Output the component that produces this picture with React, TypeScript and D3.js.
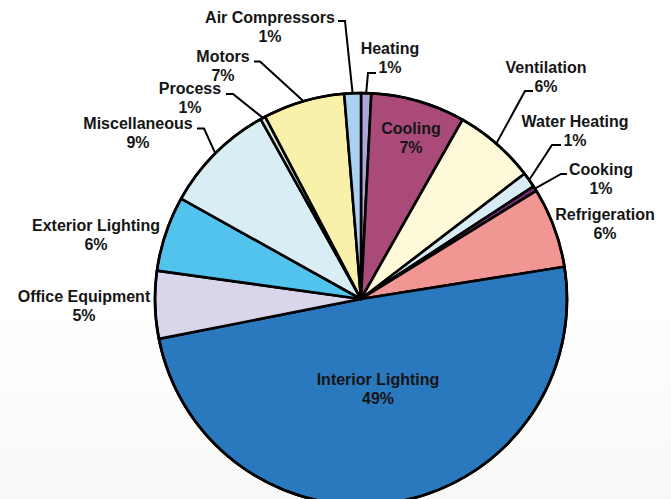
import React from "react";
import * as d3 from "d3";

// slice order, clockwise from 12 o'clock
const categories = [
  "Heating",
  "Cooling",
  "Ventilation",
  "Water Heating",
  "Cooking",
  "Refrigeration",
  "Interior Lighting",
  "Office Equipment",
  "Exterior Lighting",
  "Miscellaneous",
  "Process",
  "Motors",
  "Air Compressors",
];
const shares = [0.8, 7.4, 6.4, 1.2, 0.4, 6.3, 49.4, 5.3, 5.9, 8.8, 0.4, 6.4, 1.3];
// percent printed in the labels
const pctLabels = ["1%", "7%", "6%", "1%", "1%", "6%", "49%", "5%", "6%", "9%", "1%", "7%", "1%"];

const colors = [
  "#aaa7da",
  "#a94a78",
  "#fef9d9",
  "#d7ecf5",
  "#7b2b7d",
  "#f29694",
  "#2a78be",
  "#d9d6ec",
  "#52c3ec",
  "#d9edf5",
  "#d3ebcc",
  "#f9f1a9",
  "#a9d2f2",
];

// label placement: cx = text centre, y = first baseline, stub = [xNearText, xFar, y]
const labelLayout: Record<string, { cx: number; y: number; stub?: [number, number, number] }> = {
  Heating: { cx: 390, y: 54, stub: [376, 368, 73] },
  Cooling: { cx: 411, y: 134 },
  Ventilation: { cx: 546, y: 73, stub: [533, 525, 91] },
  "Water Heating": { cx: 575, y: 127, stub: [561, 552, 145] },
  Cooking: { cx: 601, y: 175, stub: [567, 561, 174] },
  Refrigeration: { cx: 605, y: 220 },
  "Interior Lighting": { cx: 378, y: 385 },
  "Office Equipment": { cx: 84, y: 302 },
  "Exterior Lighting": { cx: 96, y: 231 },
  Miscellaneous: { cx: 138, y: 129, stub: [197, 204, 128.5] },
  Process: { cx: 190, y: 94, stub: [226, 233, 94] },
  Motors: { cx: 223, y: 62, stub: [254, 260, 61.5] },
  "Air Compressors": { cx: 270, y: 23, stub: [338, 345, 21] },
};

export default function App() {
  const width = 671;
  const height = 499;
  const cx = 361;
  const cy = 299;
  const r = 206;

  const data = categories.map((name, i) => ({ name, value: shares[i], pct: pctLabels[i], color: colors[i] }));

  const pie = d3
    .pie<any>()
    .sort(null)
    .value((d) => d.value)
    .startAngle(0)
    .endAngle(2 * Math.PI);
  const arcs = pie(data);

  const arc = d3.arc<any>().innerRadius(0).outerRadius(r);
  const edge = d3.arc<any>().innerRadius(r).outerRadius(r);

  const font = "'Liberation Sans', Arial, Helvetica, sans-serif";

  return (
    <svg
      width={width}
      height={height}
      style={{ position: "absolute", left: 0, top: 0, background: "#fff" }}
    >
      <defs>
        <linearGradient id="bg" x1="0" y1="0" x2="0" y2="1">
          <stop offset="0" stopColor="#ffffff" />
          <stop offset="0.6" stopColor="#ffffff" />
          <stop offset="1" stopColor="#f8f9f7" />
        </linearGradient>
      </defs>
      <rect width={width} height={height} fill="url(#bg)" />

      <g transform={`translate(${cx},${cy})`}>
        {arcs.map((a) => (
          <path
            key={a.data.name}
            d={arc(a) as string}
            fill={a.data.color}
            stroke="#000"
            strokeWidth={2.6}
            strokeLinejoin="round"
          />
        ))}
        <circle r={r} fill="none" stroke="#000" strokeWidth={2.6} />
      </g>

      {arcs.map((a) => {
        const lay = labelLayout[a.data.name];
        if (!lay.stub) return null;
        const [ex, ey] = edge.centroid(a);
        const [x1, x2, sy] = lay.stub;
        return (
          <polyline
            key={"l-" + a.data.name}
            points={`${x1},${sy} ${x2},${sy} ${cx + ex},${cy + ey}`}
            fill="none"
            stroke="#000"
            strokeWidth={2}
          />
        );
      })}

      {arcs.map((a) => {
        const lay = labelLayout[a.data.name];
        return (
          <text
            key={"t-" + a.data.name}
            x={lay.cx}
            y={lay.y}
            textAnchor="middle"
            fontFamily={font}
            fontWeight="bold"
            fontSize={16}
            fill="#151515"
          >
            <tspan x={lay.cx}>{a.data.name}</tspan>
            <tspan x={lay.cx} dy={19}>
              {a.data.pct}
            </tspan>
          </text>
        );
      })}
    </svg>
  );
}
